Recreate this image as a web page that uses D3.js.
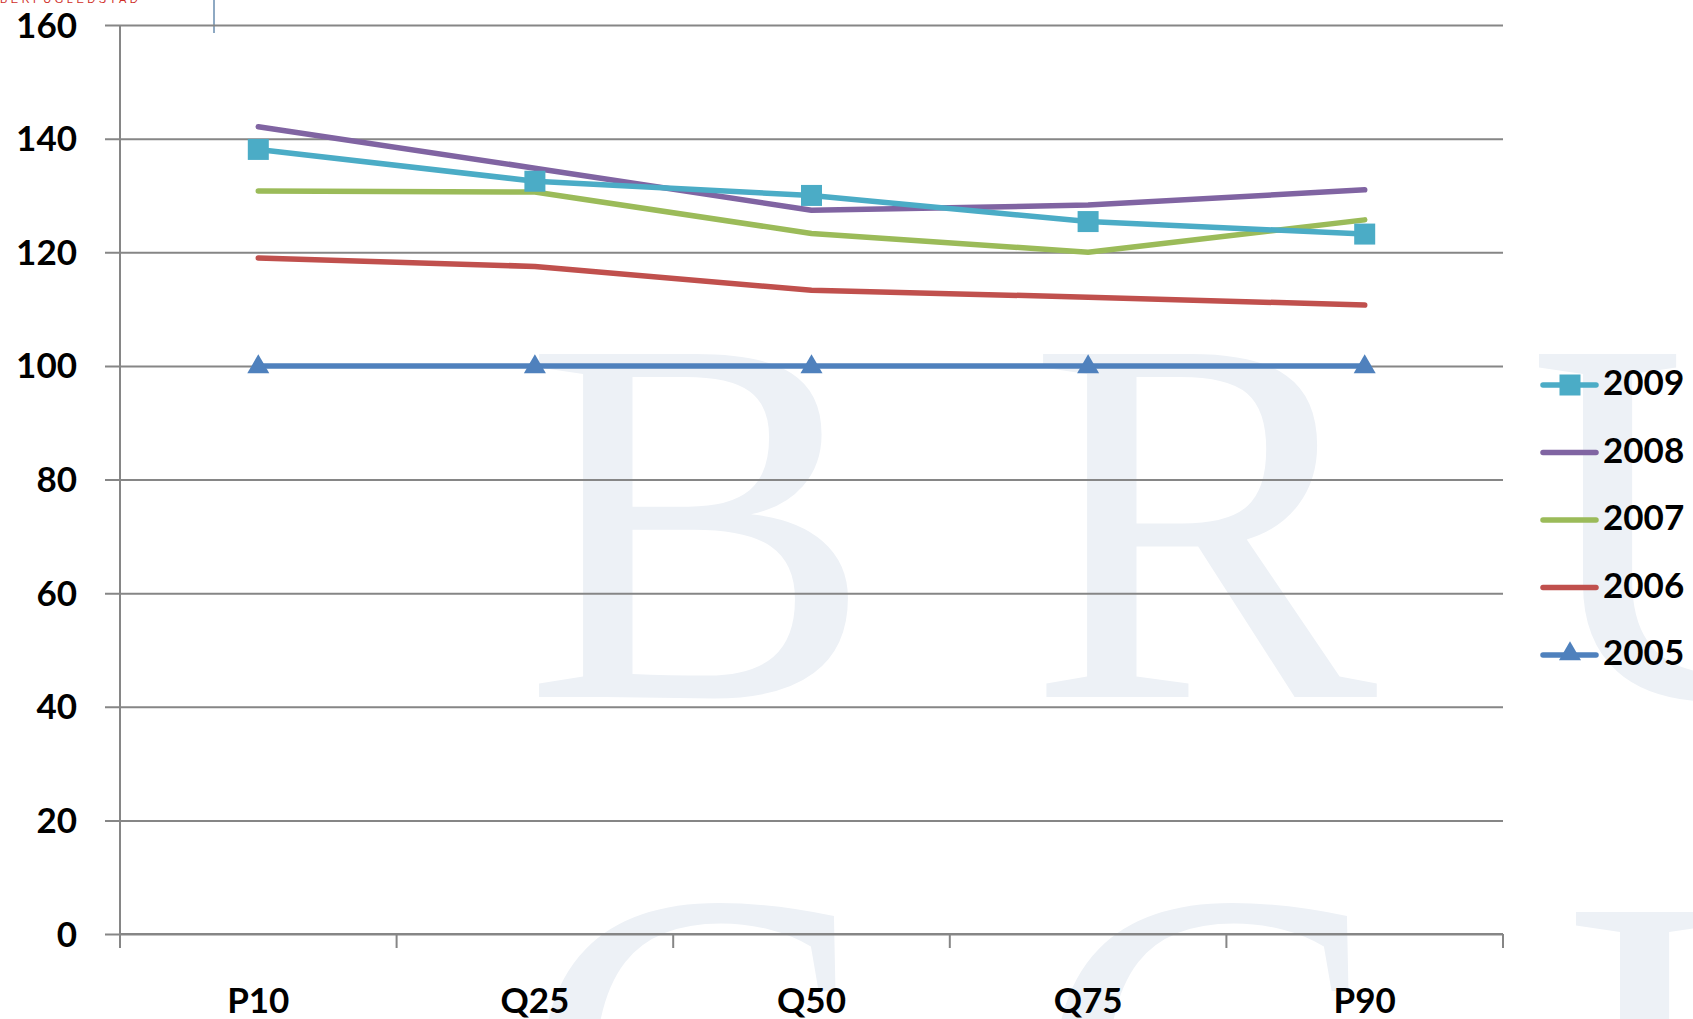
<!DOCTYPE html>
<html>
<head>
<meta charset="utf-8">
<script src="https://cdn.jsdelivr.net/npm/d3@7"></script>
<style>
  body { margin: 0; background: #fff; }
  svg { display: block; }
</style>
</head>
<body>
<svg id="chart"></svg>
<script>
const categories = ['P10', 'Q25', 'Q50', 'Q75', 'P90'];
const years = ['2009', '2008', '2007', '2006', '2005'];
const v2009 = [138.1, 132.5, 130.0, 125.4, 123.2];
const v2008 = [142.1, 134.8, 127.4, 128.3, 131.0];
const v2007 = [130.8, 130.6, 123.3, 120.0, 125.7];
const v2006 = [119.0, 117.5, 113.3, 112.1, 110.7];
const v2005 = [100, 100, 100, 100, 100];
const yTicks = [0, 20, 40, 60, 80, 100, 120, 140, 160];

const W = 1693, H = 1019;
const plotLeft = 120, plotRight = 1503, plotTop = 25, plotBottom = 934;

const series = [
  { name: '2005', values: v2005, color: '#4f81bd', marker: 'triangle' },
  { name: '2006', values: v2006, color: '#c0504d', marker: null },
  { name: '2007', values: v2007, color: '#9bbb59', marker: null },
  { name: '2008', values: v2008, color: '#8064a2', marker: null },
  { name: '2009', values: v2009, color: '#4bacc6', marker: 'square' }
];

const svg = d3.select('#chart').attr('width', W).attr('height', H);

// watermark letters in the background
const wm = svg.append('g')
  .style('font-family', '"Liberation Serif", "DejaVu Serif", serif')
  .style('font-size', '524px')
  .attr('fill', '#edf1f6');
[['B', 524, 697], ['R', 1028, 697], ['U', 1528, 697],
 ['C', 520, 1250], ['C', 1033, 1250], ['U', 1565, 1255]].forEach(function (d) {
  wm.append('text').attr('x', d[1]).attr('y', d[2]).text(d[0]);
});

// stray header bits at the very top
svg.append('text')
  .attr('x', 0).attr('y', 3)
  .style('font-family', '"Liberation Sans", sans-serif')
  .style('font-size', '11px')
  .style('letter-spacing', '3.5px')
  .attr('fill', '#d0302a')
  .text('BERFUGLEDSTAD');
svg.append('line')
  .attr('x1', 214).attr('x2', 214).attr('y1', 0).attr('y2', 33)
  .attr('stroke', '#8ea9c3').attr('stroke-width', 2);

const xScale = d3.scaleBand().domain(categories).range([plotLeft, plotRight]);
const yScale = d3.scaleLinear().domain([0, 160]).range([plotBottom, plotTop]);

const font = 'Lato, "Open Sans", sans-serif';

// gridlines + y ticks
svg.append('g')
  .attr('transform', `translate(${plotLeft},0)`)
  .call(d3.axisLeft(yScale).tickValues(yTicks).tickSize(15).tickFormat(''))
  .call(g => g.select('.domain').remove())
  .call(g => g.selectAll('line').attr('x2', plotRight - plotLeft).attr('x1', -15)
    .attr('stroke', '#868686').attr('stroke-width', 2));

// y axis line
svg.append('line')
  .attr('x1', plotLeft).attr('x2', plotLeft).attr('y1', plotTop).attr('y2', plotBottom)
  .attr('stroke', '#868686').attr('stroke-width', 2);

// y labels
svg.append('g').selectAll('text')
  .data(yTicks)
  .enter()
  .append('text')
  .attr('x', 77)
  .attr('y', d => yScale(d) + 12.5)
  .attr('text-anchor', 'end')
  .style('font-family', font)
  .style('font-weight', 'bold')
  .style('font-size', '35px')
  .text(d => d);

// x axis with category boundary ticks
const xEdges = categories.map(c => xScale(c)).concat([plotRight]);
svg.append('line')
  .attr('x1', plotLeft).attr('x2', plotRight).attr('y1', plotBottom).attr('y2', plotBottom)
  .attr('stroke', '#868686').attr('stroke-width', 2);
svg.append('g').selectAll('line')
  .data(xEdges)
  .enter()
  .append('line')
  .attr('x1', d => d).attr('x2', d => d)
  .attr('y1', plotBottom).attr('y2', plotBottom + 14)
  .attr('stroke', '#868686').attr('stroke-width', 2);

svg.append('g').selectAll('text')
  .data(categories)
  .enter()
  .append('text')
  .attr('x', d => xScale(d) + xScale.bandwidth() / 2)
  .attr('y', 1013)
  .attr('text-anchor', 'middle')
  .style('font-family', font)
  .style('font-weight', 'bold')
  .style('font-size', '35px')
  .text(d => d);

const cx = (d, i) => xScale(categories[i]) + xScale.bandwidth() / 2;
const line = d3.line()
  .x(cx)
  .y(d => yScale(d));

const triangle = d3.symbol().type(d3.symbolTriangle).size(210);

series.forEach(function (s) {
  svg.append('path')
    .attr('d', line(s.values))
    .attr('fill', 'none')
    .attr('stroke', s.color)
    .attr('stroke-width', 5.5)
    .attr('stroke-linecap', 'round')
    .attr('stroke-linejoin', 'round');

  if (s.marker === 'square') {
    svg.append('g').selectAll('rect')
      .data(s.values)
      .enter()
      .append('rect')
      .attr('x', (d, i) => cx(d, i) - 10.5)
      .attr('y', d => yScale(d) - 10.5)
      .attr('width', 21).attr('height', 21)
      .attr('fill', s.color);
  } else if (s.marker === 'triangle') {
    svg.append('g').selectAll('path')
      .data(s.values)
      .enter()
      .append('path')
      .attr('d', triangle)
      .attr('transform', (d, i) => `translate(${cx(d, i)},${yScale(d) + 1})`)
      .attr('fill', s.color);
  }
});

// legend
const legendY = d3.scalePoint().domain(years).range([385, 655]);
const legend = svg.append('g');
years.forEach(function (y) {
  const s = series.find(t => t.name === y);
  const ly = legendY(y);
  legend.append('line')
    .attr('x1', 1543).attr('x2', 1596).attr('y1', ly).attr('y2', ly)
    .attr('stroke', s.color).attr('stroke-width', 5.5)
    .attr('stroke-linecap', 'round');
  if (s.marker === 'square') {
    legend.append('rect')
      .attr('x', 1570 - 10.5).attr('y', ly - 10.5)
      .attr('width', 21).attr('height', 21)
      .attr('fill', s.color);
  } else if (s.marker === 'triangle') {
    legend.append('path')
      .attr('d', triangle)
      .attr('transform', `translate(1570,${ly - 1})`)
      .attr('fill', s.color);
  }
  legend.append('text')
    .attr('x', 1603).attr('y', ly + 10)
    .style('font-family', font)
    .style('font-weight', 'bold')
    .style('font-size', '35px')
    .text(y);
});
</script>
</body>
</html>
